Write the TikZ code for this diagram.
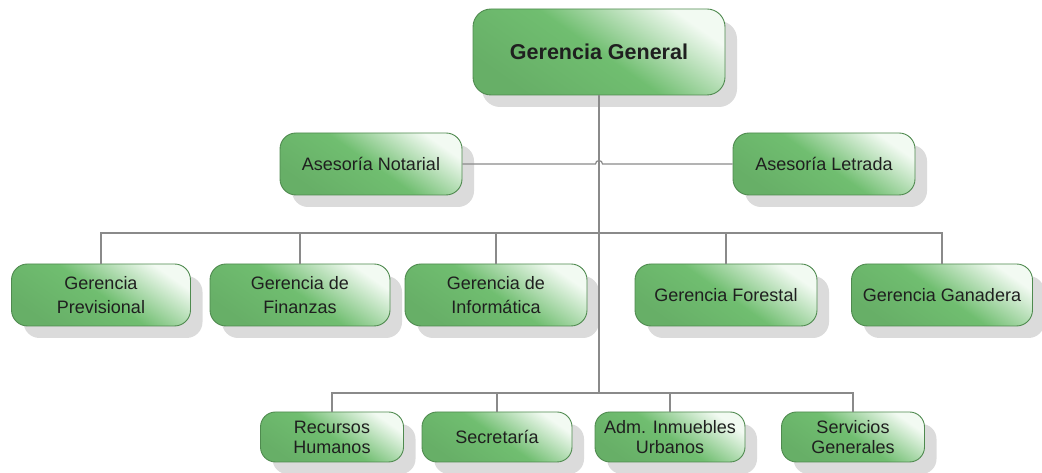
\documentclass[tikz,border=0pt]{standalone}
\usepackage{fontspec}
\setmainfont{Liberation Sans}
\usetikzlibrary{shadows, calc}

\definecolor{boxgreen}{HTML}{70BE70}
\definecolor{boxlight}{HTML}{F2FAF2}
\definecolor{boxedge}{HTML}{4F8A4F}
\definecolor{linegray}{HTML}{8A8A8A}

\tikzset{
  unit/.style={rounded corners=16pt, draw=boxedge, line width=0.9pt,
    top color=boxlight, bottom color=boxgreen!92!black, middle color=boxgreen,
    shading angle=-35, align=center, text=black!88,
    drop shadow={shadow xshift=12pt, shadow yshift=-12pt, fill=black!14, opacity=1},
    font=\fontsize{18}{24}\selectfont},
  unitsmall/.style={unit, rounded corners=15pt, minimum height=50pt,
    font=\fontsize{18}{20}\selectfont},
  link/.style={draw=linegray, line width=1.2pt}
}

\begin{document}
\begin{tikzpicture}[x=1pt, y=1pt]
    \useasboundingbox (0,0) rectangle (1042,473);

    % Top
    \node[unit, rounded corners=18pt, minimum width=252pt, minimum height=86pt,
      font=\fontsize{21.5}{26}\selectfont\bfseries,
      drop shadow={shadow xshift=9pt, shadow yshift=-12pt, fill=black!14, opacity=1}]
      (general) at (599,421) {Gerencia General};

    % Advisors
    \node[unit, minimum width=182pt, minimum height=62pt] (notarial) at (371,309) {Asesoría Notarial};
    \node[unit, minimum width=182pt, minimum height=62pt] (letrada) at (824,309) {Asesoría Letrada};

    % Managements
    \node[unit, minimum width=179pt, minimum height=62pt] (previsional) at (101,178) {Gerencia\\Previsional};
    \node[unit, minimum width=180pt, minimum height=62pt] (finanzas) at (300,178) {Gerencia de\\Finanzas};
    \node[unit, minimum width=182pt, minimum height=62pt] (informatica) at (496,178) {Gerencia de\\Informática};
    \node[unit, minimum width=182pt, minimum height=62pt] (forestal) at (726,178) {Gerencia Forestal};
    \node[unit, minimum width=181pt, minimum height=62pt] (ganadera) at (942,178) {Gerencia Ganadera};

    % Services
    \node[unitsmall, minimum width=143pt] (rrhh) at (332,36) {Recursos\\Humanos};
    \node[unitsmall, minimum width=150pt] (secretaria) at (497,36) {Secretaría};
    \node[unitsmall, minimum width=150pt] (inmuebles) at (670,36) {Adm. Inmuebles\\Urbanos};
    \node[unitsmall, minimum width=143pt] (servicios) at (853,36) {Servicios\\Generales};

    % Junctions
    \coordinate (hop) at (599,309);
    \coordinate (busmid) at (599,240);
    \coordinate (busdown) at (599,80);

    % Connectors
    \draw[link] (general.south) -- (busdown);
    \draw[link] (notarial.east) -- ([xshift=-3.5pt]hop) arc[start angle=180, end angle=0, radius=3.5pt] -- (letrada.west);
    \draw[link] (previsional.north) |- (busmid) -| (ganadera.north);
    \foreach \n in {finanzas, informatica, forestal}
      \draw[link] (\n.north) -- (\n.north |- busmid);
    \draw[link] (rrhh.north) |- (busdown) -| (servicios.north);
    \foreach \n in {secretaria, inmuebles}
      \draw[link] (\n.north) -- (\n.north |- busdown);
\end{tikzpicture}
\end{document}
